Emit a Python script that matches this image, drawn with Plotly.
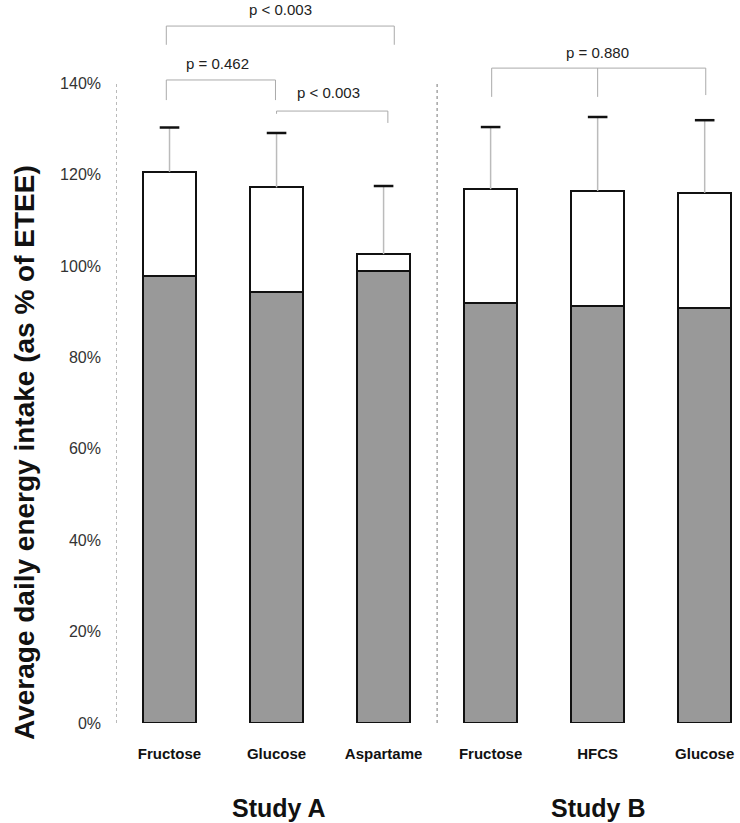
import plotly.graph_objects as go

# ---- data ----
categories = ["Fructose", "Glucose", "Aspartame", "Fructose", "HFCS", "Glucose"]
studies = ["Study A", "Study B"]
gray_part = [97.7, 94.3, 98.8, 91.8, 91.2, 90.9]     # lower (gray) segment, %
total = [120.6, 117.2, 102.6, 116.8, 116.4, 116.0]   # top of stacked bar, %
err_upper = [9.7, 11.9, 14.9, 13.6, 16.2, 15.9]      # upper error, %
y_ticks = [0, 20, 40, 60, 80, 100, 120, 140]
y_tick_labels = [f"{v}%" for v in y_ticks]

x = list(range(len(categories)))
white_part = [t - g for t, g in zip(total, gray_part)]
caps = [t + e for t, e in zip(total, err_upper)]

fig = go.Figure()
fig.add_trace(go.Bar(x=x, y=gray_part, width=0.5,
                     marker=dict(color="#999999", line=dict(color="#111111", width=2)),
                     showlegend=False, hoverinfo="skip"))
fig.add_trace(go.Bar(x=x, y=white_part, width=0.5,
                     marker=dict(color="white", line=dict(color="#111111", width=2)),
                     showlegend=False, hoverinfo="skip"))

# error stems (light gray) and caps (black)
sx, sy = [], []
for xi, t, c in zip(x, total, caps):
    sx += [xi, xi, None]
    sy += [t, c, None]
fig.add_trace(go.Scatter(x=sx, y=sy, mode="lines",
                         line=dict(color="#bbbbbb", width=1.5),
                         showlegend=False, hoverinfo="skip"))
fig.add_trace(go.Scatter(x=x, y=caps, mode="markers",
                         marker=dict(symbol="line-ew", size=14,
                                     line=dict(color="#111111", width=2.5)),
                         showlegend=False, hoverinfo="skip"))

# dotted axis line and group divider
for xv in [-0.5, 2.5]:
    fig.add_shape(type="line", x0=xv, x1=xv, y0=0, y1=140, xref="x", yref="y",
                  line=dict(color="#777777", width=1, dash="dot"))

# significance brackets
br_color = "#aaaaaa"
def bracket(xs, y_top, y_ends):
    for xv, ye in zip(xs, y_ends):
        fig.add_shape(type="line", x0=xv, x1=xv, y0=ye, y1=y_top,
                      line=dict(color=br_color, width=1))
    fig.add_shape(type="line", x0=xs[0], x1=xs[-1], y0=y_top, y1=y_top,
                  line=dict(color=br_color, width=1))

bracket([-0.03, 2.1], 152.5, [148.4, 148.4])
bracket([-0.03, 0.99], 140.7, [136.3, 136.3])
bracket([1.0, 2.04], 133.9, [133.3, 131.3])
bracket([3.01, 4.0, 5.01], 143.3, [137.0, 137.0, 137.4])

p_texts = ["p < 0.003", "p = 0.462", "p < 0.003", "p = 0.880"]
p_pos = [(1.04, 156.1), (0.45, 144.4), (1.49, 137.9), (4.0, 146.8)]
for t, (px, py) in zip(p_texts, p_pos):
    fig.add_annotation(x=px, y=py, text=t, showarrow=False, yanchor="middle",
                       font=dict(family="Liberation Sans, Arial", size=15, color="#222222"))

# study labels
for s, sxv in zip(studies, [1.02, 4.0]):
    fig.add_annotation(x=sxv, y=-0.1176, xref="x", yref="paper", text=f"<b>{s}</b>",
                       showarrow=False, yanchor="middle",
                       font=dict(family="Liberation Sans Narrow, Arial Narrow, Liberation Sans",
                                 size=25, color="#111111"))

# y title
fig.add_annotation(x=(24 - 116) / 624, xref="paper", xanchor="center",
                   y=(723 - 453) / 723, yref="paper", yanchor="middle",
                   text="<b>Average daily energy intake (as % of ETEE)</b>",
                   showarrow=False, textangle=-90,
                   font=dict(family="Liberation Sans, Arial", size=28, color="#111111"))

fig.update_layout(
    width=740, height=823,
    margin=dict(l=116, r=0, t=0, b=100),
    barmode="stack", bargap=0,
    plot_bgcolor="white", paper_bgcolor="white",
    xaxis=dict(range=[-0.5, 5.33], tickvals=x,
               ticktext=[f"<b>{c}</b>" for c in categories],
               showgrid=False, zeroline=False, showline=False, ticks="",
               ticklabelstandoff=20,
               tickfont=dict(family="Liberation Sans Narrow, Arial Narrow, Liberation Sans",
                             size=15, color="#111111")),
    yaxis=dict(range=[0, 158.2], tickvals=y_ticks, ticktext=y_tick_labels,
               showgrid=False, zeroline=False, showline=False, ticks="",
               ticklabelstandoff=14,
               tickfont=dict(family="Liberation Sans, Arial", size=16, color="#333333")),
)

fig.write_html("out.html", config={"displayModeBar": False},
               post_script="document.body.style.margin='0';")
